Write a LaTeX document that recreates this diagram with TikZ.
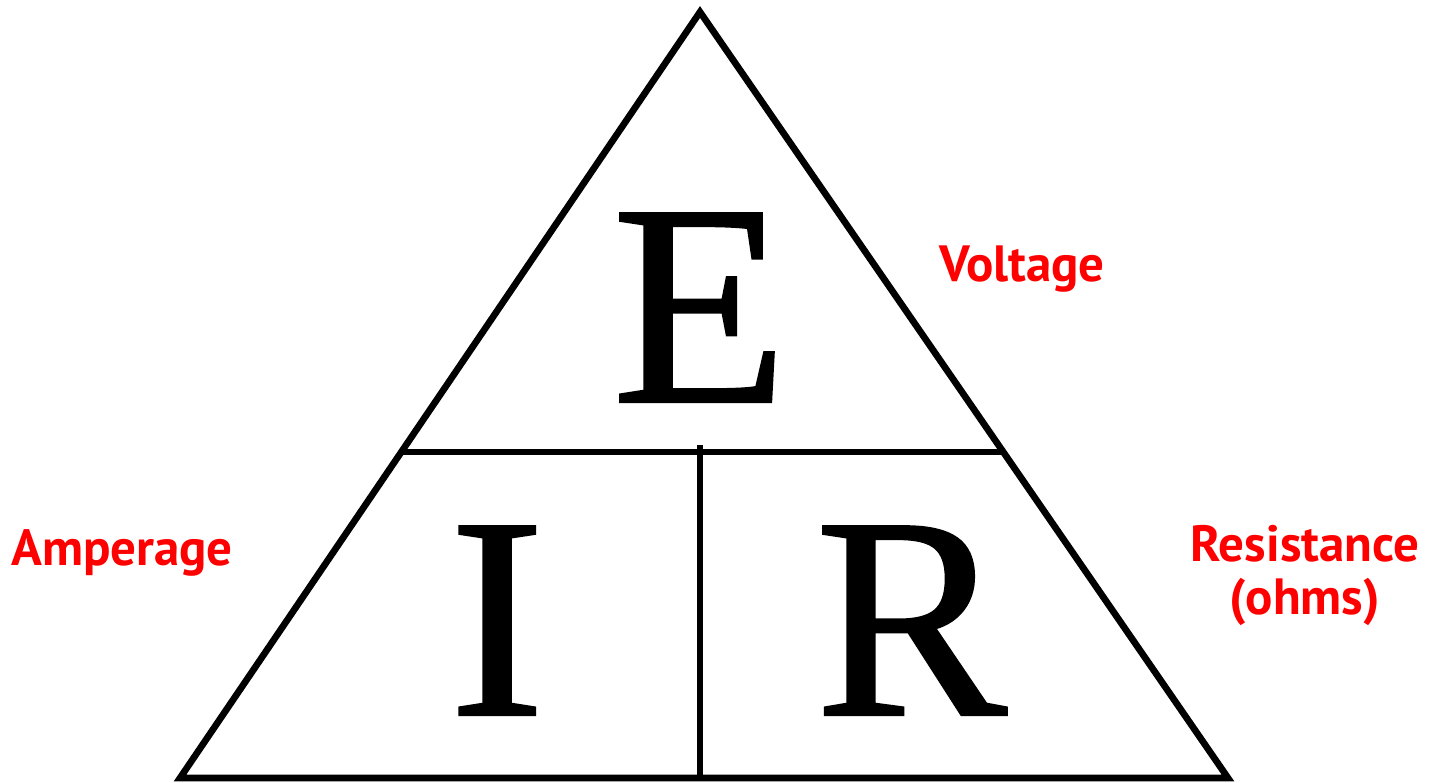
\documentclass[tikz,border=0pt]{standalone}
\usepackage{fontspec}
\setmainfont{Liberation Serif}
\newfontfamily\letterfont[FakeBold=0.8]{Liberation Serif}
\newfontfamily\labelfont{PT Sans}
\usepackage{xcolor}
\usetikzlibrary{positioning}

\begin{document}
\begin{tikzpicture}[x=0.02cm, y=-0.02cm, line width=3.8pt]
    % Stili
    \tikzstyle{letter}=[inner sep=0pt, anchor=base, font=\letterfont\fontsize{164}{164}\selectfont]
    \tikzstyle{quantity}=[inner sep=0pt, anchor=base, text=red, align=center, font=\labelfont\bfseries\fontsize{29}{30}\selectfont]

    \useasboundingbox (0,0) rectangle (1431,783);

    % Vertici
    \coordinate (top) at (700,12);
    \coordinate (left) at (180,778);
    \coordinate (right) at (1228,778);
    \coordinate (midleft) at (401,452);
    \coordinate (midright) at (1005,452);
    \coordinate (midtop) at (700,445);
    \coordinate (midbottom) at (700,778);

    % Triangolo
    \draw[line join=miter] (top) -- (right) -- (left) -- cycle;
    \draw (midleft) -- (midright);
    \draw (midtop) -- (midbottom);

    % Lettere
    \node (volt) [letter] at (700,402) {E};
    \node (amp) [letter] at (497,715) {I};
    \node (ohm) [letter] at (911,715) {R};

    % Etichette
    \node (voltlabel) [quantity] at (1022,282) {Voltage};
    \node (amplabel) [quantity] at (122,566) {Amperage};
    \node (ohmlabel) [quantity] at (1305,562) {Resistance};
    \node (ohmunit) [quantity] at (1305,615) {(ohms)};
\end{tikzpicture}
\end{document}
